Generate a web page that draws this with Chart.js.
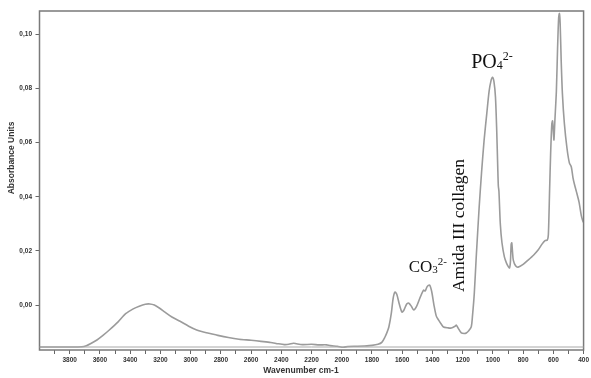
<!DOCTYPE html>
<html>
<head>
<meta charset="utf-8">
<script src="https://cdn.jsdelivr.net/npm/chart.js@4.4.1/dist/chart.umd.min.js"></script>
<style>
  html, body { margin: 0; padding: 0; background: #fff; }
  #wrap { width: 591px; height: 378px; }
</style>
</head>
<body>
<div id="wrap"><canvas id="grafico_ftir" width="591" height="378"></canvas></div>
<script>
// espectro FTIR
const numeroOnda = [
  4000, 3900, 3800, 3720, 3690, 3660, 3620, 3580, 3540, 3480, 3430, 3380, 3340, 3300, 3270,
  3240, 3210, 3170, 3124, 3070, 3013, 2960, 2927, 2880, 2820, 2750, 2680, 2600, 2534, 2470,
  2420, 2380, 2350, 2320, 2300, 2260, 2200, 2150, 2100, 2075, 2030, 1990, 1960, 1900, 1852,
  1800, 1760, 1735, 1714, 1700, 1688, 1672, 1660, 1648, 1636, 1620, 1602, 1590, 1570, 1556,
  1540, 1524, 1505, 1480, 1459, 1448, 1435, 1419, 1405, 1390, 1375, 1360, 1340, 1327, 1300,
  1275, 1250, 1242, 1230, 1209, 1190, 1176, 1160, 1143, 1135, 1123, 1110, 1091, 1075, 1058,
  1040, 1025, 1012, 1003, 993, 983, 975, 968, 964, 960, 951, 940, 924, 910, 898,
  890, 884, 879, 875, 870, 865, 850, 833, 800, 767, 730, 701, 675, 655, 640,
  633, 625, 618, 610, 605, 600, 596, 590, 580, 572, 565, 560, 555, 548, 540,
  527, 510, 494, 481, 470, 460, 448, 430, 415, 405, 400
];
const absorbancia = [
  -0.0155, -0.0155, -0.0155, -0.0154, -0.0150, -0.0142, -0.0129, -0.0112, -0.0093, -0.0062, -0.0032, -0.0014, -0.0004, 0.0003, 0.0004,
  0.0000, -0.0010, -0.0026, -0.0044, -0.0060, -0.0078, -0.0092, -0.0098, -0.0104, -0.0112, -0.0120, -0.0126, -0.0130, -0.0134, -0.0138,
  -0.0143, -0.0146, -0.0145, -0.0141, -0.0143, -0.0146, -0.0145, -0.0147, -0.0147, -0.0150, -0.0152, -0.0156, -0.0153, -0.0152, -0.0151,
  -0.0149, -0.0145, -0.0138, -0.0118, -0.0100, -0.0080, -0.0030, 0.0025, 0.0048, 0.0040, 0.0005, -0.0026, -0.0020, 0.0004, 0.0007,
  -0.0004, -0.0018, -0.0005, 0.0030, 0.0055, 0.0052, 0.0068, 0.0074, 0.0050, 0.0000, -0.0040, -0.0055, -0.0072, -0.0081, -0.0084,
  -0.0085, -0.0078, -0.0074, -0.0085, -0.0103, -0.0105, -0.0103, -0.0095, -0.0080, -0.0040, 0.0044, 0.0180, 0.0360, 0.0490, 0.0610,
  0.0710, 0.0790, 0.0830, 0.0841, 0.0825, 0.0768, 0.0650, 0.0510, 0.0440, 0.0420, 0.0300, 0.0230, 0.0178, 0.0155, 0.0142,
  0.0137, 0.0160, 0.0225, 0.0230, 0.0195, 0.0166, 0.0145, 0.0140, 0.0150, 0.0166, 0.0185, 0.0203, 0.0225, 0.0238, 0.0240,
  0.0260, 0.0420, 0.0560, 0.0670, 0.0680, 0.0640, 0.0610, 0.0680, 0.0790, 0.0950, 0.1060, 0.1077, 0.1040, 0.0900, 0.0780,
  0.0670, 0.0580, 0.0525, 0.0510, 0.0470, 0.0445, 0.0420, 0.0380, 0.0330, 0.0310, 0.0305
];

const ticksX = [3900, 3800, 3700, 3600, 3500, 3400, 3300, 3200, 3100, 3000, 2900, 2800, 2700, 2600, 2500,
  2400, 2300, 2200, 2100, 2000, 1900, 1800, 1700, 1600, 1500, 1400, 1300, 1200, 1100, 1000,
  900, 800, 700, 600, 500, 400];
const ticksY = [0.00, 0.02, 0.04, 0.06, 0.08, 0.10];

// anotacoes: [texto, subscrito, sobrescrito, numero de onda, absorbancia, tamanho]
const rotulos = [
  ['PO', '4', '2-', 1144, 0.0875, 20],
  ['CO', '3', '2-', 1557, 0.0122, 17]
];
const rotuloVertical = ['Amida III collagen', 1190, 0.0048, 17.5];

const ctx_ftir = document.getElementById('grafico_ftir').getContext('2d');

const moldura = {
  id: 'moldura',
  afterDatasetsDraw(chart) {
    const c = chart.ctx;
    const a = chart.chartArea;
    c.save();
    c.strokeStyle = '#7a7a7a';
    c.lineWidth = 1.5;
    c.strokeRect(a.left, a.top, a.right - a.left, a.bottom - a.top);
    c.strokeStyle = '#a8a8a8';
    c.lineWidth = 1;
    c.beginPath();
    c.moveTo(a.left, a.bottom - 3);
    c.lineTo(a.right, a.bottom - 3);
    c.stroke();

    const sx = chart.scales.x, sy = chart.scales.y;
    c.fillStyle = '#111';
    c.textBaseline = 'alphabetic';
    c.textAlign = 'left';
    rotulos.forEach(r => {
      let x = sx.getPixelForValue(r[3]);
      const y = sy.getPixelForValue(r[4]);
      const t = r[5];
      c.font = t + 'px "Liberation Serif", serif';
      c.fillText(r[0], x, y);
      x += c.measureText(r[0]).width;
      c.font = Math.round(t * 0.62) + 'px "Liberation Serif", serif';
      c.fillText(r[1], x, y + 1);
      x += c.measureText(r[1]).width;
      c.fillText(r[2], x, y - t * 0.42);
    });

    c.save();
    c.translate(sx.getPixelForValue(rotuloVertical[1]), sy.getPixelForValue(rotuloVertical[2]));
    c.rotate(-Math.PI / 2);
    c.font = rotuloVertical[3] + 'px "Liberation Serif", serif';
    c.fillText(rotuloVertical[0], 0, 0);
    c.restore();

    // titulos dos eixos
    c.fillStyle = '#333';
    c.textAlign = 'center';
    c.textBaseline = 'middle';
    c.font = 'bold 8.5px "Liberation Sans", Arial, sans-serif';
    c.fillText('Wavenumber cm-1', 301, 371);
    c.save();
    c.translate(12, 158);
    c.rotate(-Math.PI / 2);
    c.font = 'bold 8.5px "Liberation Sans", Arial, sans-serif';
    c.fillText('Absorbance Units', 0, 0);
    c.restore();
    c.restore();
  }
};

const grafico_ftir = new Chart(ctx_ftir, {
  type: 'line',
  data: {
    datasets: [{
      label: 'FTIR',
      data: numeroOnda.map((w, i) => ({ x: w, y: absorbancia[i] })),
      borderColor: '#9b9b9b',
      borderWidth: 1.6,
      pointRadius: 0,
      fill: false,
      tension: 0.25
    }]
  },
  options: {
    responsive: false,
    animation: false,
    layout: { padding: { top: 11, right: 2.5, left: 0, bottom: 0 } },
    plugins: { legend: { display: false }, tooltip: { enabled: false } },
    scales: {
      x: {
        type: 'linear',
        reverse: true,
        min: 400,
        max: 4000,
        afterBuildTicks: s => { s.ticks = ticksX.map(v => ({ value: v })); },
        afterFit: s => { s.height = 28; },
        grid: { drawOnChartArea: false, drawTicks: true, tickLength: 4, color: '#666', lineWidth: 1 },
        border: { display: false },
        ticks: {
          autoSkip: false,
          maxRotation: 0,
          padding: 2,
          color: '#333',
          font: { family: '"Liberation Sans", Arial, sans-serif', size: 6.5, weight: 'bold' },
          callback: v => (v % 200 === 0 ? String(v) : '')
        }
      },
      y: {
        min: -0.0166,
        max: 0.1086,
        afterBuildTicks: s => { s.ticks = ticksY.map(v => ({ value: v })); },
        afterFit: s => { s.width = 39.5; },
        grid: { drawOnChartArea: false, drawTicks: true, tickLength: 4, color: '#666', lineWidth: 1 },
        border: { display: false },
        ticks: {
          padding: 3.5,
          color: '#333',
          font: { family: '"Liberation Sans", Arial, sans-serif', size: 6.5, weight: 'bold' },
          callback: v => v.toFixed(2).replace('.', ',')
        }
      }
    }
  },
  plugins: [moldura]
});
</script>
</body>
</html>
